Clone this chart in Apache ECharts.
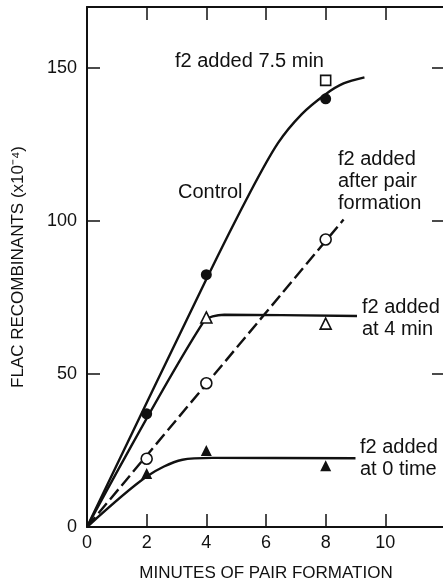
<!DOCTYPE html>
<html>
<head>
<meta charset="utf-8">
<script src="https://cdn.jsdelivr.net/npm/echarts@6/dist/echarts.min.js"></script>
<style>
  html,body{margin:0;padding:0;background:#fff;}
  #chart{width:443px;height:582px;}
</style>
</head>
<body>
<div id="chart"></div>
<script>
// measured points (minutes, recombinants x10^-4)
let controlPts = [[2, 37], [4, 82.5], [8, 140]]
let added75Pts = [[8, 146]]
let afterPairPts = [[2, 22.3], [4, 47], [8, 94]]
let at4Pts = [[4, 68.5], [8, 66.5]]
let at0Pts = [[2, 17.5], [4, 25], [8, 20]]

// hand drawn curves through the points
let controlCurve = [[0, 0], [4, 81], [5.5, 110], [6.4, 125.5], [7.2, 135], [8, 141.5], [8.6, 145], [9.3, 147]]
let afterPairCurve = [[0, 0], [8.6, 100.5]]
let at4Curve = [[0, 0], [3.9, 67], [4.6, 69.4], [9.05, 69]]
let at0Curve = [[0, 0], [2, 16.5], [3.2, 22], [4.2, 22.6], [9, 22.5]]

let xTicks = [0, 2, 4, 6, 8, 10]
let yTicks = [0, 50, 100, 150]

let ink = '#111'
let font = 'Liberation Sans'

let chart = echarts.init(document.getElementById('chart'))

function curve(data, dashed) {
  return {
    type: 'line',
    data: data,
    smooth: 0.3,
    showSymbol: false,
    symbol: 'none',
    z: 2,
    lineStyle: {color: ink, width: 2.4, type: dashed ? [13, 5] : 'solid'}
  }
}

function marks(data, symbol, filled, size) {
  return {
    type: 'scatter',
    data: data,
    symbol: symbol,
    symbolSize: size || 11,
    z: 5,
    itemStyle: {
      color: filled ? ink : '#fff',
      opacity: 1,
      borderColor: ink,
      borderWidth: filled ? 0 : 1.6
    }
  }
}

function note(left, top, lines) {
  return {
    type: 'text',
    left: left,
    top: top,
    style: {
      text: lines.join('\n'),
      font: '20px "' + font + '"',
      fill: ink,
      lineHeight: 22
    }
  }
}

let frame = {show: true, onZero: false, lineStyle: {color: ink, width: 2}}

let option = {
  backgroundColor: '#fff',
  animation: false,
  grid: {left: 87, right: -2, top: 7, bottom: 55, containLabel: false, outerBoundsMode: 'none'},
  xAxis: [{
    type: 'value',
    min: 0, max: 12, interval: 2,
    name: 'MINUTES OF PAIR FORMATION',
    nameLocation: 'middle',
    nameGap: 38,
    nameTextStyle: {color: ink, fontSize: 17, fontFamily: font},
    axisLine: frame,
    axisTick: {inside: true, length: 13, lineStyle: {color: ink, width: 1.5},
      customValues: xTicks},
    axisLabel: {color: ink, fontSize: 18, fontFamily: font, margin: 7,
      customValues: xTicks},
    splitLine: {show: false}
  }, {
    type: 'value',
    position: 'top',
    min: 0, max: 12, interval: 2,
    axisLine: frame,
    axisTick: {inside: true, length: 13, lineStyle: {color: ink, width: 1.5},
      customValues: [2, 4, 6, 8, 10]},
    axisLabel: {show: false},
    splitLine: {show: false}
  }],
  yAxis: [{
    type: 'value',
    min: 0, max: 170, interval: 50,
    name: 'FLAC RECOMBINANTS (x10⁻⁴)',
    nameLocation: 'middle',
    nameGap: 60,
    nameTextStyle: {color: ink, fontSize: 17, fontFamily: font},
    axisLine: frame,
    axisTick: {inside: true, length: 13, lineStyle: {color: ink, width: 1.5},
      customValues: yTicks},
    axisLabel: {color: ink, fontSize: 18, fontFamily: font, margin: 10,
      customValues: yTicks},
    splitLine: {show: false}
  }, {
    type: 'value',
    position: 'right',
    min: 0, max: 170, interval: 50,
    axisLine: frame,
    axisTick: {inside: true, length: 13, lineStyle: {color: ink, width: 1.5},
      customValues: [50, 100, 150]},
    axisLabel: {show: false},
    splitLine: {show: false}
  }],
  graphic: [
    note(175, 50, ['f2 added 7.5 min']),
    note(178, 181, ['Control']),
    note(338, 148, ['f2 added', 'after pair', 'formation']),
    note(362, 296, ['f2 added', 'at 4 min']),
    note(360, 436, ['f2 added', 'at 0 time'])
  ],
  series: [
    curve(controlCurve),
    curve(afterPairCurve, true),
    curve(at4Curve),
    curve(at0Curve),
    marks(controlPts, 'circle', true),
    marks(added75Pts, 'rect', false, 10),
    marks(afterPairPts, 'circle', false),
    marks(at4Pts, 'triangle', false),
    marks(at0Pts, 'triangle', true)
  ]
}

chart.setOption(option)
</script>
</body>
</html>
